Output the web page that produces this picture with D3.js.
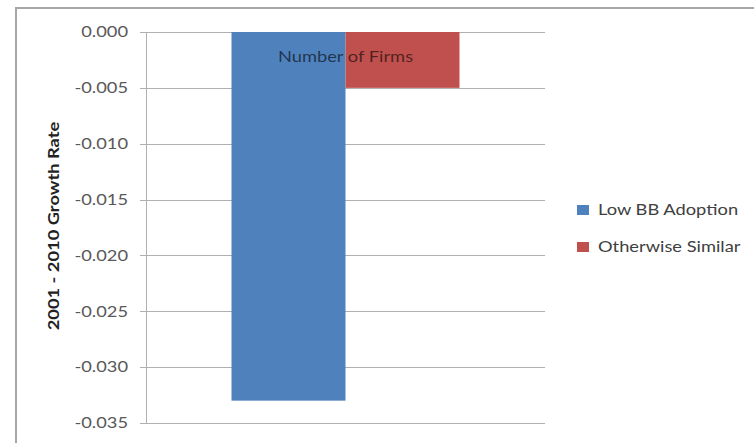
<!DOCTYPE html>
<html>
<head>
<meta charset="utf-8">
<script src="https://cdn.jsdelivr.net/npm/d3@7"></script>
<style>
  body { margin: 0; background: #fff; }
  svg { display: block; font-family: Lato, "Liberation Sans", Arial, sans-serif; }
</style>
</head>
<body>
<div id="chart"></div>
<script>
// Data
const categories = ["Number of Firms"];
const seriesNames = ["Low BB Adoption", "Otherwise Similar"];
const seriesColors = ["#4f81bd", "#c0504d"];
const lowBB = [-0.033];
const otherwise = [-0.005];
const yTicks = [0, -0.005, -0.010, -0.015, -0.020, -0.025, -0.030, -0.035];
const yTickLabels = ["0.000", "-0.005", "-0.010", "-0.015", "-0.020", "-0.025", "-0.030", "-0.035"];

const width = 754, height = 443;
const plot = { left: 146, right: 545, top: 32, bottom: 423 };
const stretch = 1.22; // the source picture is widened a bit, text looks wide

const svg = d3.select("#chart").append("svg")
    .attr("width", width)
    .attr("height", height);

// chart border (frame of the excel chart)
svg.append("rect")
    .attr("x", 16).attr("y", 8)
    .attr("width", width + 20).attr("height", height + 20)
    .attr("fill", "#fff")
    .attr("stroke", "#a6a6a6")
    .attr("stroke-width", 2);

const y = d3.scaleLinear()
    .domain([0, -0.035])
    .range([plot.top, plot.bottom]);

// one category band, bars take 2/3.5 of it (150% gap width)
const x0 = d3.scaleBand()
    .domain(categories)
    .range([plot.left, plot.right])
    .paddingInner(0)
    .paddingOuter(0);

const barW = x0.bandwidth() / 3.5;
const x1 = d3.scaleBand()
    .domain(seriesNames)
    .range([0.75 * barW, 2.75 * barW]);

// gridlines
svg.append("g")
    .selectAll("line")
    .data(yTicks)
    .enter().append("line")
    .attr("x1", plot.left - 6)
    .attr("x2", plot.right)
    .attr("y1", d => Math.round(y(d)) + 0.5)
    .attr("y2", d => Math.round(y(d)) + 0.5)
    .attr("stroke", "#b0b0b0")
    .attr("stroke-width", 1);

// vertical axis line
svg.append("line")
    .attr("x1", plot.left + 0.5).attr("x2", plot.left + 0.5)
    .attr("y1", plot.top).attr("y2", plot.bottom)
    .attr("stroke", "#b0b0b0");

// tick labels
svg.append("g")
    .selectAll("text")
    .data(yTicks)
    .enter().append("text")
    .attr("transform", d => `translate(128,${y(d)}) scale(${stretch},1)`)
    .attr("dy", "0.35em")
    .attr("text-anchor", "end")
    .style("font-size", "15px")
    .style("fill", "#595959")
    .text((d, i) => yTickLabels[i]);

// axis title
svg.append("text")
    .attr("transform", `translate(59,226) rotate(-90) scale(${stretch},1)`)
    .attr("text-anchor", "middle")
    .style("font-size", "15px")
    .style("font-weight", "bold")
    .style("fill", "#222")
    .text("2001 - 2010 Growth Rate");

// bars
const seriesValues = [lowBB, otherwise];
const bars = [];
categories.forEach((c, ci) => {
    seriesNames.forEach((s, si) => {
        bars.push({ cat: c, series: s, value: seriesValues[si][ci], color: seriesColors[si] });
    });
});

svg.append("g")
    .selectAll("rect")
    .data(bars)
    .enter().append("rect")
    .attr("x", d => x0(d.cat) + x1(d.series))
    .attr("width", x1.bandwidth())
    .attr("y", y(0))
    .attr("height", d => y(d.value) - y(0))
    .attr("fill", d => d.color);

// category label sits on the top of the bars
svg.append("g")
    .selectAll("text")
    .data(categories)
    .enter().append("text")
    .attr("transform", d => `translate(${x0(d) + x0.bandwidth() / 2},57) scale(${stretch},1)`)
    .attr("dy", "0.35em")
    .attr("text-anchor", "middle")
    .style("font-size", "15px")
    .style("fill", "#000")
    .style("fill-opacity", 0.6)
    .text(d => d);

// legend
const legend = svg.append("g")
    .selectAll("g")
    .data(seriesNames)
    .enter().append("g")
    .attr("transform", (d, i) => `translate(577,${210 + i * 37})`);

legend.append("rect")
    .attr("x", 0).attr("y", -5)
    .attr("width", 12).attr("height", 10)
    .attr("fill", (d, i) => seriesColors[i]);

legend.append("text")
    .attr("transform", `translate(21,0) scale(${stretch},1)`)
    .attr("dy", "0.35em")
    .style("font-size", "15px")
    .style("fill", "#404040")
    .text(d => d);
</script>
</body>
</html>
